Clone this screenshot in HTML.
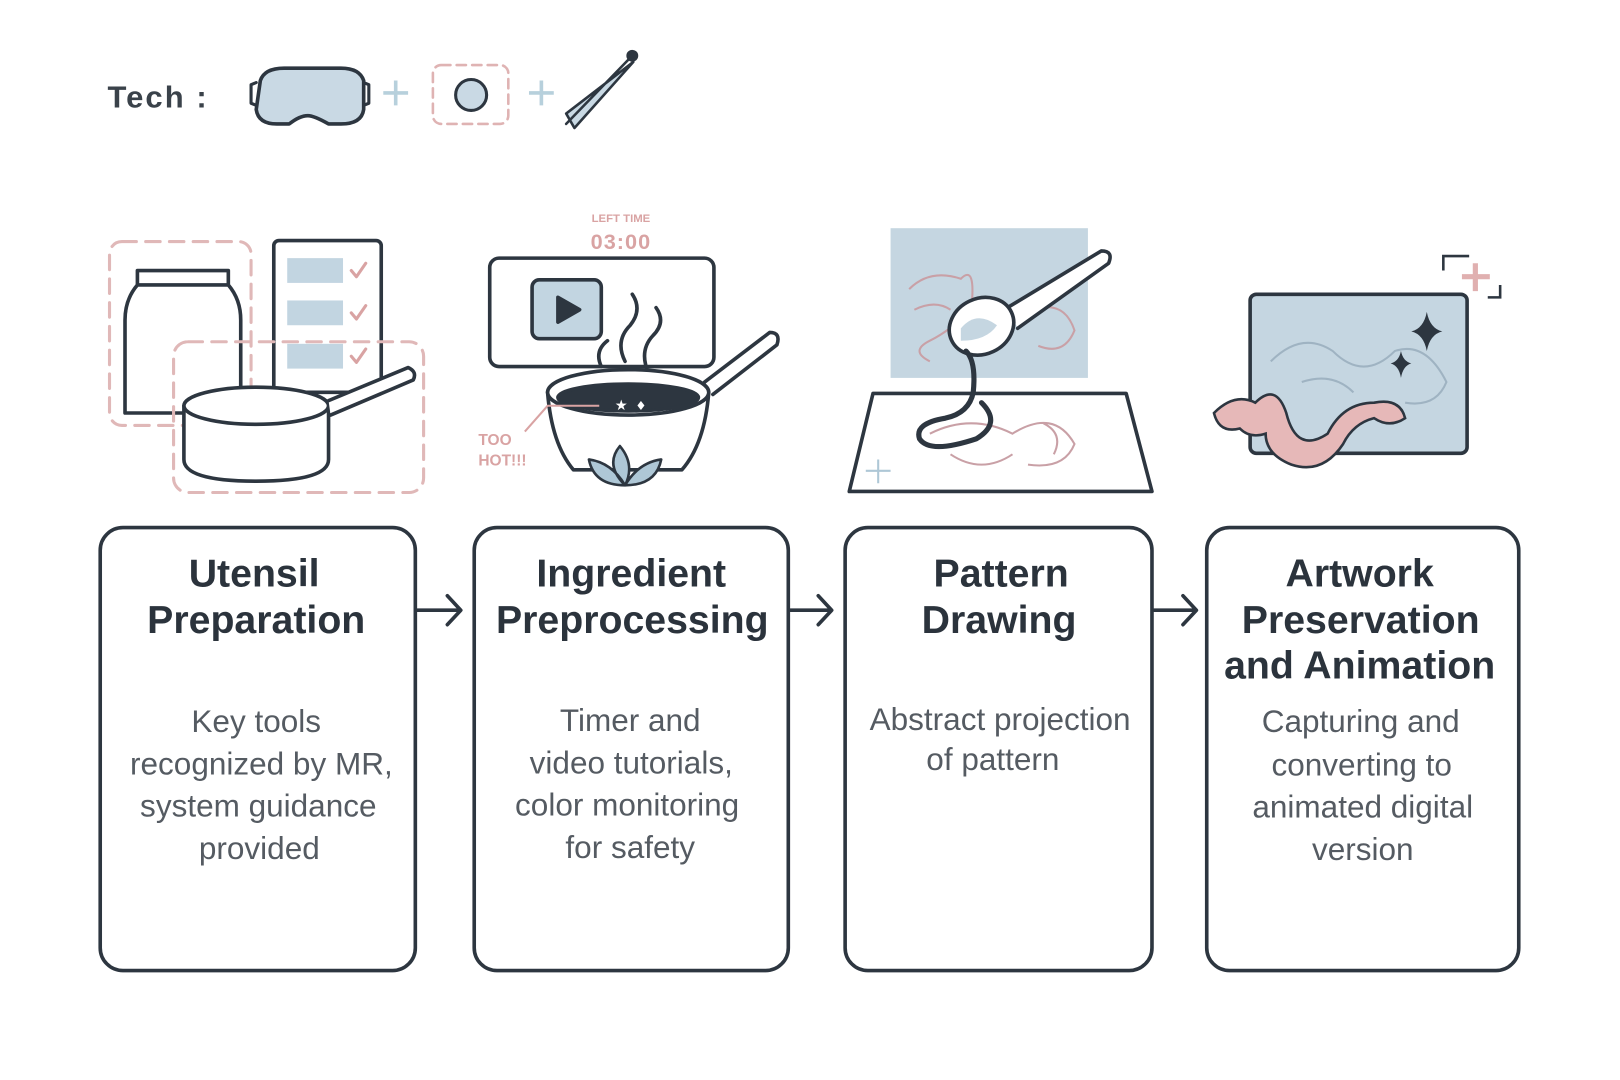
<!DOCTYPE html>
<html><head><meta charset="utf-8"><style>
html,body{margin:0;padding:0;background:#fff;width:1620px;height:1080px;overflow:hidden}
svg{display:block}
.t{font-family:"Liberation Sans",sans-serif;font-weight:bold;font-size:38px;fill:#2b333c;text-anchor:middle}
.b{font-family:"Liberation Sans",sans-serif;font-size:30.5px;fill:#555b62;text-anchor:middle}
</style></head><body>
<svg width="1620" height="1080" viewBox="0 0 1568 1046" preserveAspectRatio="none">
<g fill="none" stroke="#2d3640" stroke-width="3.5" stroke-linecap="round" stroke-linejoin="round">
<path d="M252 78 Q256 66 275 66 L330 66 Q348 66 352 78 L352 106 Q350 120 330 120 L318 120 Q304 112 298 112 Q290 112 280 120 L268 120 Q250 120 248 106 Z" fill="#c9d9e4"/>
<path d="M248 80 L243 82 L243 100 L248 102 M352 80 L357 82 L357 100 L352 102" stroke-width="3"/>
<rect x="419" y="63" width="73" height="57" rx="8" stroke="#dfb3b3" stroke-dasharray="9 6" stroke-width="2.5"/>
<circle cx="456" cy="92" r="15" fill="#c9d9e4" stroke-width="3"/>
<path d="M548 120 L608 58 M556 124 L613 60 L548 110 Z" fill="#c9d9e4" stroke-width="2.5"/>
<circle cx="612" cy="54" r="4" fill="#2d3640"/>
</g>
<g stroke="#b7d0dc" stroke-width="3.5"><path d="M371 90 H395 M383 78 V102 M512 90 H536 M524 78 V102"/></g>
<text x="104" y="104" font-family="Liberation Sans,sans-serif" font-weight="bold" font-size="30" fill="#3a424a" letter-spacing="2">Tech :</text>

<g fill="none" stroke-linecap="round" stroke-linejoin="round">
<rect x="106" y="234" width="137" height="178" rx="12" stroke="#e0b8b8" stroke-width="3" stroke-dasharray="14 9"/>
<path d="M133 262 H221 V276 Q233 290 233 310 V400 H121 V310 Q121 290 133 276 Z M133 276 H221" stroke="#2d3640" stroke-width="3.5" fill="#fff"/>
<rect x="265" y="233" width="104" height="147" rx="5" stroke="#2d3640" stroke-width="3.5" fill="#fff"/>
<rect x="278" y="250" width="54" height="24" fill="#c2d5e1"/><rect x="278" y="291" width="54" height="24" fill="#c2d5e1"/><rect x="278" y="333" width="54" height="24" fill="#c2d5e1"/>
<path d="M340 262 l5 6 l9 -13 M340 303 l5 6 l9 -13 M340 345 l5 6 l9 -13" stroke="#d9a3a3" stroke-width="3"/>
<rect x="168" y="331" width="242" height="146" rx="14" stroke="#e0b8b8" stroke-width="3" stroke-dasharray="14 9"/>
<path d="M178 393 V445 Q178 466 248 466 Q318 466 318 445 V393" stroke="#2d3640" stroke-width="3.5" fill="#fff"/>
<ellipse cx="248" cy="393" rx="70" ry="18" stroke="#2d3640" stroke-width="3.5" fill="#fff"/>
<path d="M318 388 L395 356 Q404 360 400 368 L320 402" stroke="#2d3640" stroke-width="3.5" fill="#fff"/>
</g>

<text x="601" y="215" font-family="Liberation Sans,sans-serif" font-weight="bold" font-size="11" fill="#d9a3a3" text-anchor="middle">LEFT TIME</text>
<text x="601" y="241" font-family="Liberation Sans,sans-serif" font-weight="bold" font-size="21" fill="#d9a3a3" text-anchor="middle" letter-spacing="1">03:00</text>
<g fill="none" stroke="#2d3640" stroke-width="3.5" stroke-linecap="round" stroke-linejoin="round">
<rect x="474" y="250" width="217" height="105" rx="9" fill="#fff"/>
<rect x="515" y="271" width="67" height="57" rx="7" fill="#c2d5e1"/>
<path d="M540 288 L561 300 L540 312 Z" fill="#2d3640"/>
<path d="M605 350 Q595 330 610 315 Q622 300 612 285 M628 362 Q618 340 632 325 Q645 312 635 298 M582 355 Q575 340 588 330"/>
<path d="M682 370 L745 322 Q756 322 752 334 L690 382" fill="#fff"/>
<path d="M530 380 Q534 430 555 455 L660 455 Q682 430 686 380" fill="#fff"/>
<ellipse cx="608" cy="380" rx="78" ry="22" fill="#fff"/>
<ellipse cx="608" cy="385" rx="68" ry="13" fill="#2d3640"/>
<path d="M605 470 Q585 450 600 432 Q615 450 605 470 Z M605 470 Q575 470 570 445 Q592 448 605 470 Z M605 470 Q635 470 640 445 Q618 448 605 470 Z" fill="#aec7d6" stroke-width="2.5"/>
</g>
<text x="595" y="397" font-size="14" fill="#fff" font-family="DejaVu Sans">★</text><text x="615" y="397" font-size="12" fill="#fff" font-family="DejaVu Sans">♦</text>
<path d="M508 418 L530 393 L580 393" stroke="#d9a3a3" stroke-width="2" fill="none"/>
<text x="463" y="431" font-family="Liberation Sans,sans-serif" font-weight="bold" font-size="15" fill="#d9a3a3">TOO</text>
<text x="463" y="451" font-family="Liberation Sans,sans-serif" font-weight="bold" font-size="15" fill="#d9a3a3">HOT!!!</text>

<rect x="862" y="221" width="191" height="145" fill="#c5d6e1"/>
<g fill="none" stroke="#c9a0a6" stroke-width="2">
<path d="M880 280 Q900 260 930 270 Q945 255 940 300 Q920 320 900 330 Q880 340 900 350 M885 300 Q905 290 920 300 M1000 300 Q1030 290 1040 320 Q1030 345 1005 335"/>
<path d="M900 420 Q940 400 980 420 Q1020 395 1040 430 Q1030 455 995 450 M920 440 Q950 460 980 440 M1010 410 Q1030 420 1020 440"/>
</g>
<g fill="none" stroke="#2d3640" stroke-width="3.5" stroke-linejoin="round" stroke-linecap="round">
<path d="M845 381 H1090 L1115 476 H822 Z" fill="none"/>
<path d="M975 298 L1066 243 Q1078 243 1073 255 L985 318" fill="#fff"/>
<ellipse cx="950" cy="316" rx="32" ry="27" fill="#fff" transform="rotate(-25 950 316)"/>
<path d="M930 318 Q945 300 965 315 Q955 330 930 330 Z" fill="#c5d6e1" stroke="none"/>
<path d="M935 340 Q945 350 942 380 Q938 400 915 405 Q885 410 890 425 Q900 440 945 425 Q970 410 950 390" stroke-width="5"/>
</g>
<path d="M850 445 V468 M838 456 H862" stroke="#aec7d6" stroke-width="2"/>

<rect x="1210" y="285" width="210" height="154" rx="6" fill="#c5d6e1" stroke="#2d3640" stroke-width="3.5"/>
<g fill="none" stroke="#9fb3c2" stroke-width="2"><path d="M1230 350 Q1260 320 1290 340 Q1320 370 1350 340 Q1380 330 1400 370 Q1390 395 1360 390 M1260 370 Q1290 360 1310 380"/></g>
<path d="M1381 302 Q1384 318 1396 321 Q1384 324 1381 340 Q1378 324 1366 321 Q1378 318 1381 302 Z M1356 340 Q1358 350 1366 352 Q1358 354 1356 366 Q1354 354 1346 352 Q1354 350 1356 340 Z" fill="#2d3640"/>
<path d="M1397 262 V248 H1422 M1452 276 V288 H1440" stroke="#2d3640" stroke-width="2.5" fill="none"/>
<path d="M1415 268 H1442 M1428 255 V282" stroke="#e0b0b0" stroke-width="5"/>
<path d="M1175 400 Q1195 380 1215 390 Q1235 370 1245 400 Q1255 440 1285 420 Q1300 390 1330 390 Q1355 385 1360 405 Q1345 415 1330 405 Q1310 410 1300 430 Q1280 460 1250 450 Q1225 440 1225 420 Q1210 425 1200 415 Q1180 420 1175 400 Z" fill="#e6b8b8" stroke="#2d3640" stroke-width="2.5"/>

<g fill="#fff" stroke="#2d3640" stroke-width="3.5">
<rect x="97" y="511" width="305" height="429" rx="22"/>
<rect x="459" y="511" width="304" height="429" rx="22"/>
<rect x="818" y="511" width="297" height="429" rx="22"/>
<rect x="1168" y="511" width="302" height="429" rx="22"/>
</g>
<g fill="none" stroke="#2d3640" stroke-width="3.5" stroke-linecap="round" stroke-linejoin="round">
<path d="M404 591 H445 M433 577 L446 591 L433 605"/>
<path d="M765 591 H804 M792 577 L805 591 L792 605"/>
<path d="M1117 591 H1157 M1145 577 L1158 591 L1145 605"/>
</g>

<text class="t" x="246" y="568">Utensil</text><text class="t" x="248" y="613">Preparation</text>
<text class="b" x="248" y="709">Key tools</text><text class="b" x="253" y="750">recognized by MR,</text><text class="b" x="250" y="791">system guidance</text><text class="b" x="251" y="832">provided</text>

<text class="t" x="611" y="568">Ingredient</text><text class="t" x="612" y="613">Preprocessing</text>
<text class="b" x="610" y="708">Timer and</text><text class="b" x="611" y="749">video tutorials,</text><text class="b" x="607" y="790">color monitoring</text><text class="b" x="610" y="831">for safety</text>

<text class="t" x="969" y="568">Pattern</text><text class="t" x="967" y="613">Drawing</text>
<text class="b" x="968" y="707" font-size="28">Abstract projection</text><text class="b" x="961" y="746" font-size="28">of pattern</text>

<text class="t" x="1316" y="568">Artwork</text><text class="t" x="1317" y="613">Preservation</text><text class="t" x="1316" y="657">and Animation</text>
<text class="b" x="1317" y="709">Capturing and</text><text class="b" x="1318" y="751">converting to</text><text class="b" x="1319" y="792">animated digital</text><text class="b" x="1319" y="833">version</text>
</svg>
</body></html>
